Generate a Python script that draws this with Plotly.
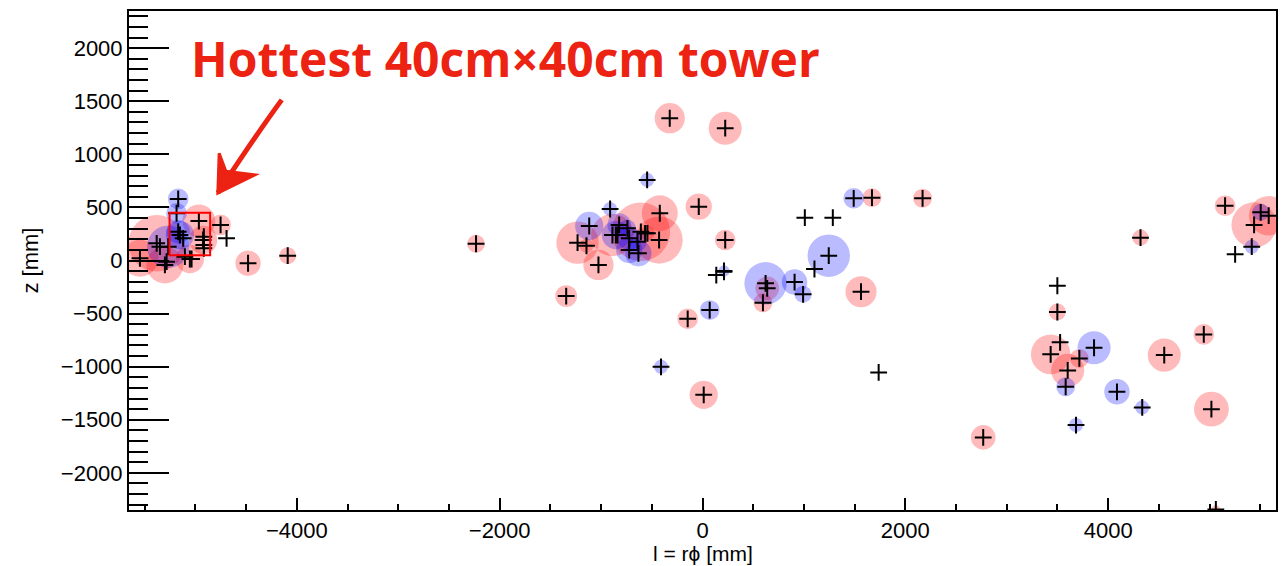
import plotly.graph_objects as go

# ---------------- data (l = r*phi [mm], z [mm], energy-like value) ----------------
red_l = [-5547, -5382, -5301, -5055, -4966, -4924, -4752, -4481, -4090,
         -2233, -1344, -1232, -1144, -1026, -888, -608, -543, -428, -421,
         -323, -37, 224, 224, -146, 12, 596, 638,
         1563, 1671, 2170, 2768, 3433, 3499, 3601, 3716, 4319, 4553, 4943,
         5018, 5062, 5153, 5439, 5583]
red_z = [21, 162, -42, 14, 372, 193, 335, -26, 45,
         158, -335, 168, 139, -42, 240, 270, 256, 193, 445,
         1340, 507, 1246, 193, -549, -1265, -398, -262,
         -294, 592, 586, -1666, -884, -485, -1035, -922, 215, -891, -696,
         -1400, -2345, 516, 335, 422]
red_e = [3.4, 8.0, 3.4, 2.0, 2.7, 2.0, 1.07, 1.6, 0.72,
         0.8, 1.19, 4.5, 0.5, 2.29, 4.5, 8.57, 0.5, 5.58, 3.23,
         2.29, 1.73, 2.74, 1.07, 1.07, 2.0, 0.9, 1.38,
         2.42, 0.9, 0.9, 1.51, 3.92, 0.72, 2.74, 0.9, 0.65, 2.74, 1.07,
         3.03, 0.18, 1.07, 5.12, 3.92]

blue_l = [-5170, -5186, -5153, -5170, -5268,
          -1117, -911, -854, -822, -740, -723, -723, -641, -632, -546,
          -409, 71, 212, 622, 908, 992, 1245,
          1491, 3581, 3683, 3861, 4087, 4336, 5416, 5504]
blue_z = [580, 445, 240, 271, 130,
          325, 485, 240, 335, 303, 209, 99, 177, 68, 759,
          -1001, -467, -99, -215, -203, -319, 45,
          586, -1189, -1550, -822, -1237, -1384, 130, 454]
blue_e = [1.07, 1.07, 2.0, 1.38, 4.5,
          2.0, 0.5, 2.0, 1.38, 0.72, 1.38, 1.73, 0.9, 1.73, 0.5,
          0.5, 0.98, 0.32, 4.5, 1.62, 0.72, 4.5,
          1.07, 0.9, 0.5, 2.74, 1.62, 0.5, 0.5, 0.72]

# crosses not sitting on a circle centre
cross_l = [-5350, -5284, -5121, -4917, -4917, -4917, -5104, -5038, -4693,
           -838, -566, 136, 212, 1104, 1009, 1285, 1737, 3499, 3526, 5252]
cross_z = [130, -11, 209, 224, 146, 115, 36, 14, 209,
           240, 256, -137, -106, -80, 403, 403, -1054, -238, -771, 58]

x_tickvals = [-4000, -2000, 0, 2000, 4000]
y_tickvals = [-2000, -1500, -1000, -500, 0, 500, 1000, 1500, 2000]

X_RANGE = [-5655, 5655]
Y_RANGE = [-2350, 2350]

SIZEREF = 0.005

fig = go.Figure()
fig.add_trace(go.Scatter(
    x=red_l, y=red_z, mode="markers",
    marker=dict(size=red_e, sizemode="area", sizeref=SIZEREF,
                color="rgba(255,0,0,0.38)", line=dict(width=0)),
    hoverinfo="skip", showlegend=False))
fig.add_trace(go.Scatter(
    x=blue_l, y=blue_z, mode="markers",
    marker=dict(size=blue_e, sizemode="area", sizeref=SIZEREF,
                color="rgba(0,0,255,0.38)", line=dict(width=0)),
    hoverinfo="skip", showlegend=False))
all_cross_l = red_l + blue_l + cross_l
all_cross_z = red_z + blue_z + cross_z
fig.add_trace(go.Scatter(
    x=all_cross_l, y=all_cross_z, mode="markers",
    marker=dict(symbol="cross-thin", size=12, line=dict(width=2, color="black")),
    hoverinfo="skip", showlegend=False))

RED = "rgb(236,34,18)"
# tower box
fig.add_shape(type="rect", x0=-5255, x1=-4855, y0=50, y1=450,
              line=dict(color="red", width=2), fillcolor="rgba(0,0,0,0)")
# hand-drawn arrow
fig.add_shape(type="path", path="M -4149 1513 Q -4390 1200 -4779 636",
              line=dict(color=RED, width=5))
fig.add_shape(type="path", path="M -4779 636 L -4766 1010 L -4700 840 L -4415 806 Z",
              line=dict(color=RED, width=3), fillcolor=RED)

fig.add_annotation(text="Hottest 40cm×40cm tower", x=-5065, y=1900,
                   xref="x", yref="y", xanchor="left", yanchor="middle",
                   showarrow=False,
                   font=dict(family="Open Sans", size=48, color=RED, weight="bold"))

axis_font = dict(family="Liberation Sans, Arial, sans-serif", size=22, color="black")
# x-axis title placed as a paper annotation just below the tick labels
fig.add_annotation(text="l = rϕ [mm]", x=0.5, y=-0.1122, xref="paper", yref="paper",
                   xanchor="center", yanchor="bottom", showarrow=False, borderpad=0,
                   font=dict(family="Liberation Sans, Arial, sans-serif", size=21,
                             color="black"))

fig.update_xaxes(range=X_RANGE, tickvals=x_tickvals, ticks="inside", ticklen=12,
                 tickwidth=2, tickcolor="black", showline=True, linecolor="black",
                 linewidth=2, mirror=True, showgrid=False, zeroline=False,
                 tickfont=axis_font,
                 minor=dict(ticks="inside", ticklen=6, tickwidth=2, dtick=500,
                            tick0=0, tickcolor="black", showgrid=False))
fig.update_yaxes(range=Y_RANGE, tickvals=y_tickvals, ticks="inside", ticklen=40,
                 tickwidth=2, tickcolor="black", showline=True, linecolor="black",
                 linewidth=2, mirror=True, showgrid=False, zeroline=False,
                 tickfont=axis_font,
                 minor=dict(ticks="inside", ticklen=19, tickwidth=2, dtick=100,
                            tick0=0, tickcolor="black", showgrid=False),
                 title=dict(text="z [mm]", font=axis_font, standoff=16))

fig.update_layout(width=1285, height=566, margin=dict(l=129, r=7, t=11, b=56),
                  paper_bgcolor="white", plot_bgcolor="white")

fig.write_html("out.html")
